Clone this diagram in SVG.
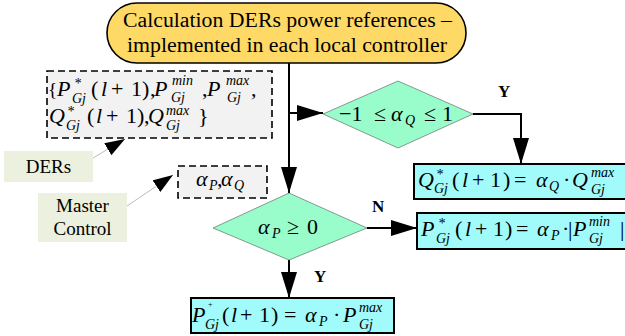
<svg xmlns="http://www.w3.org/2000/svg" width="625" height="336" viewBox="0 0 625 336">
<style>
text{font-family:"Liberation Serif","DejaVu Serif",serif;fill:#000}
.t{font-size:20px}
.m{font-size:22px}
.i{font-style:italic}
.s{font-size:14px;font-style:italic}
.lbl{font-size:17px;font-weight:bold}
.note{font-size:19px}
.ln{fill:none;stroke:#000;stroke-width:2}
.gl{fill:none;stroke:#aaa;stroke-width:0.8}
.box{fill:#a2fbfb;stroke:#000;stroke-width:2}
.dia{fill:#99fccb;stroke:#555;stroke-width:0.6}
.dash{fill:#f2f2f2;stroke:#000;stroke-width:1.6;stroke-dasharray:7 4}
.nb{fill:#ebf1de}
</style>
<defs>
<marker id="ah" markerWidth="26" markerHeight="16" refX="26" refY="8" orient="auto" markerUnits="userSpaceOnUse"><path d="M0,0 L26,8 L0,16 Z" fill="#000"/></marker>
<marker id="ahs" markerWidth="20" markerHeight="14" refX="20" refY="7" orient="auto" markerUnits="userSpaceOnUse"><path d="M0,0 L20,7 L0,14 Z" fill="#000"/></marker>
</defs>

<g id="connectors">
<path class="ln" d="M289,63 V193" marker-end="url(#ah)"/>
<path class="ln" d="M289,113 H323" marker-end="url(#ah)"/>
<path class="ln" d="M473,114 H521 V164" marker-end="url(#ah)"/>
<path class="ln" d="M367,228 H417" marker-end="url(#ah)"/>
<path class="ln" d="M289,260 V298" marker-end="url(#ah)"/>
<path class="gl" d="M93,158 L125,139" marker-end="url(#ahs)"/>
<path class="gl" d="M127,206 L173,175" marker-end="url(#ahs)"/>
<text class="lbl" x="498" y="97">Y</text>
<text class="lbl" x="372" y="212">N</text>
<text class="lbl" x="314" y="282">Y</text>
</g>

<g id="start">
<rect x="107" y="3" width="359" height="60" rx="30" ry="30" fill="#ffd966" stroke="#000" stroke-width="1.6"/>
<text class="t" x="123" y="27" textLength="329" lengthAdjust="spacingAndGlyphs">Calculation DERs power references  –</text>
<text class="t" x="127" y="52" textLength="320" lengthAdjust="spacingAndGlyphs">implemented in each local controller</text>
</g>

<g id="inputs">
<rect class="dash" x="47" y="71" width="225" height="67"/>
<text class="m"><tspan x="48" y="96" font-size="19px">{</tspan><tspan class="i" x="57" y="96">P</tspan><tspan class="s" x="74" y="88">*</tspan><tspan class="s" x="72" y="103">Gj</tspan><tspan x="91" y="96">(</tspan><tspan class="i" x="101" y="96">l</tspan><tspan x="111" y="96">+</tspan><tspan x="131" y="96">1</tspan><tspan x="142" y="96">)</tspan><tspan x="150" y="96">,</tspan><tspan class="i" x="154" y="96">P</tspan><tspan class="s" x="172" y="85">min</tspan><tspan class="s" x="171" y="102">Gj</tspan><tspan x="202" y="96">,</tspan><tspan class="i" x="207" y="96">P</tspan><tspan class="s" x="226" y="85">max</tspan><tspan class="s" x="227" y="102">Gj</tspan><tspan x="251" y="96">,</tspan></text>
<text class="m"><tspan class="i" x="49" y="123">Q</tspan><tspan class="s" x="67" y="116">*</tspan><tspan class="s" x="66" y="130">Gj</tspan><tspan x="87" y="123">(</tspan><tspan class="i" x="96" y="123">l</tspan><tspan x="106" y="123">+</tspan><tspan x="126" y="123">1</tspan><tspan x="137" y="123">)</tspan><tspan x="144" y="123">,</tspan><tspan class="i" x="148" y="123">Q</tspan><tspan class="s" x="166" y="115">max</tspan><tspan class="s" x="166" y="130">Gj</tspan><tspan x="198" y="123">}</tspan></text>
</g>

<g id="alphas">
<rect class="dash" x="178" y="166" width="89" height="32"/>
<text class="m"><tspan class="i" x="196" y="186">α</tspan><tspan class="s" x="209" y="190" font-size="12px">P</tspan><tspan x="217" y="186">,</tspan><tspan class="i" x="221" y="186">α</tspan><tspan class="s" x="234" y="190" font-size="12px">Q</tspan></text>
</g>

<g id="ders">
<rect class="nb" x="4" y="151" width="89" height="31"/>
<text class="note" x="48.5" y="173" text-anchor="middle">DERs</text>
</g>

<g id="master">
<rect class="nb" x="38" y="193" width="89" height="49"/>
<text class="note" x="82.5" y="212" text-anchor="middle">Master</text>
<text class="note" x="82.5" y="235" text-anchor="middle">Control</text>
</g>

<g id="decisionQ">
<polygon class="dia" points="323,114 398,81 473,114 398,148"/>
<text font-size="22px"><tspan x="339" y="121">−1</tspan><tspan x="374" y="121">≤</tspan><tspan class="i" x="391" y="121">α</tspan><tspan class="s" x="405" y="125" font-size="12px">Q</tspan><tspan x="424" y="121">≤</tspan><tspan x="442" y="121">1</tspan></text>
</g>

<g id="decisionP">
<polygon class="dia" points="213,228 289,193 367,228 289,260"/>
<text font-size="22px"><tspan class="i" x="258" y="234">α</tspan><tspan class="s" x="272" y="238" font-size="12px">P</tspan><tspan x="287" y="234">≥</tspan><tspan x="307" y="234">0</tspan></text>
</g>

<g id="outQ">
<rect class="box" x="414" y="164" width="216" height="35"/>
<text class="m"><tspan class="i" x="418" y="187">Q</tspan><tspan class="s" x="436" y="179">*</tspan><tspan class="s" x="434" y="193">Gj</tspan><tspan x="452" y="187">(</tspan><tspan class="i" x="462" y="187">l</tspan><tspan x="472" y="187">+</tspan><tspan x="490" y="187">1</tspan><tspan x="503" y="187">)</tspan><tspan x="514" y="187">=</tspan><tspan class="i" x="536" y="187">α</tspan><tspan class="s" x="549" y="191" font-size="12px">Q</tspan><tspan x="563" y="187">·</tspan><tspan class="i" x="572" y="187">Q</tspan><tspan class="s" x="591" y="177">max</tspan><tspan class="s" x="591" y="194">Gj</tspan></text>
</g>

<g id="outPneg">
<rect class="box" x="417" y="213" width="213" height="36"/>
<text class="m"><tspan class="i" x="421" y="236">P</tspan><tspan class="s" x="438" y="228">*</tspan><tspan class="s" x="436" y="243">Gj</tspan><tspan x="455" y="236">(</tspan><tspan class="i" x="465" y="236">l</tspan><tspan x="475" y="236">+</tspan><tspan x="493" y="236">1</tspan><tspan x="505" y="236">)</tspan><tspan x="516" y="236">=</tspan><tspan class="i" x="537" y="236">α</tspan><tspan class="s" x="551" y="240" font-size="12px">P</tspan><tspan x="562" y="236">·</tspan><tspan x="568" y="236">|</tspan><tspan class="i" x="573" y="236">P</tspan><tspan class="s" x="589" y="226">min</tspan><tspan class="s" x="589" y="243">Gj</tspan><tspan x="620" y="236">|</tspan></text>
</g>

<g id="outPpos">
<rect class="box" x="191" y="298" width="203" height="35"/>
<text class="m"><tspan class="i" x="192" y="322">P</tspan><tspan x="208" y="307" font-size="8px">+</tspan><tspan class="s" x="205" y="329">Gj</tspan><tspan x="222" y="322">(</tspan><tspan class="i" x="231" y="322">l</tspan><tspan x="240" y="322">+</tspan><tspan x="259" y="322">1</tspan><tspan x="271" y="322">)</tspan><tspan x="284" y="322">=</tspan><tspan class="i" x="305" y="322">α</tspan><tspan class="s" x="319" y="326" font-size="12px">P</tspan><tspan x="333" y="322">·</tspan><tspan class="i" x="343" y="322">P</tspan><tspan class="s" x="359" y="312">max</tspan><tspan class="s" x="359" y="329">Gj</tspan></text>
</g>
</svg>
